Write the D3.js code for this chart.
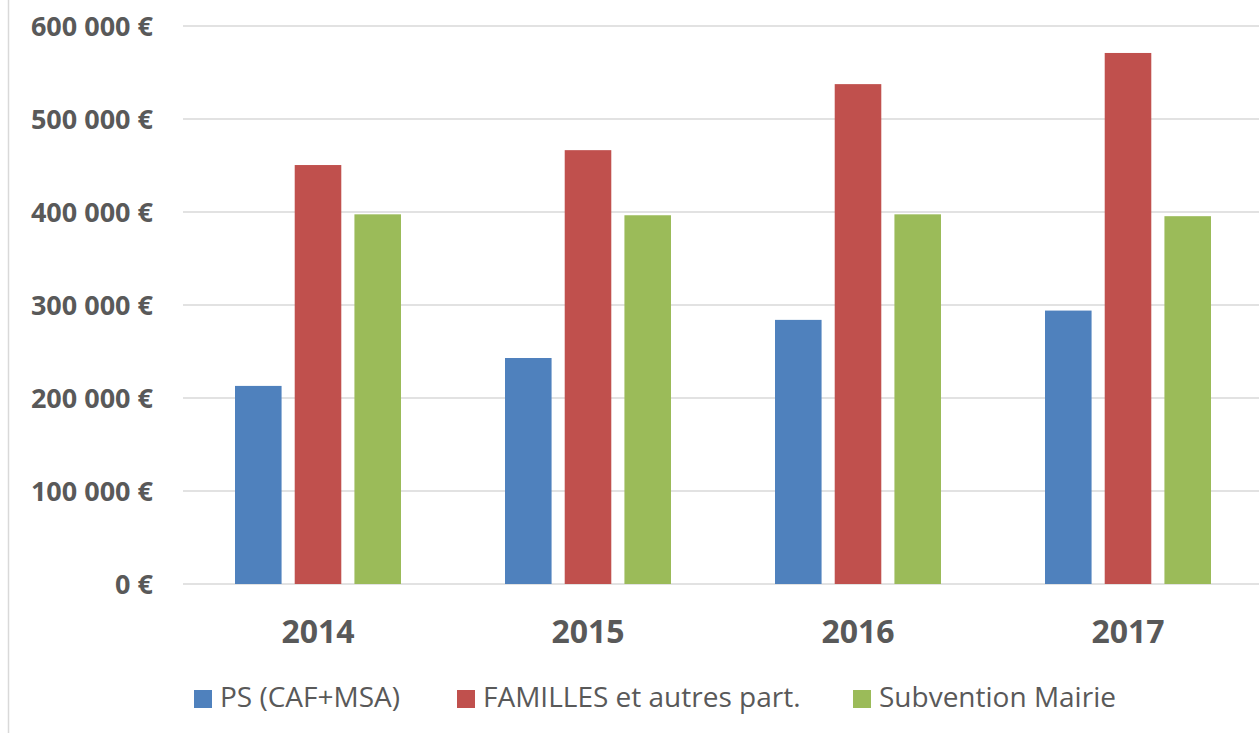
<!DOCTYPE html>
<html><head><meta charset="utf-8">
<script src="https://cdn.jsdelivr.net/npm/d3@7"></script>
<style>body{margin:0;background:#fff}svg{display:block}</style>
</head><body>
<script>
const years = ["2014","2015","2016","2017"];
const seriesNames = ["PS (CAF+MSA)","FAMILLES et autres part.","Subvention Mairie"];
const ps = [213000, 243000, 284000, 294000];
const familles = [450500, 466500, 537500, 571000];
const mairie = [397500, 396500, 397500, 395500];
const yTicks = [0,100000,200000,300000,400000,500000,600000];
const colors = ["#4F81BD","#C0504D","#9BBB59"];

const W=1259,H=733;
const svg=d3.select("body").append("svg").attr("width",W).attr("height",H);
const font="'Open Sans', 'Liberation Sans', sans-serif";
const txt="#595959";

svg.append("line").attr("x1",8.5).attr("x2",8.5).attr("y1",0).attr("y2",H).attr("stroke","#D9D9D9").attr("stroke-width",1.5);

const x0=d3.scaleBand().domain(years).range([183,1263]).paddingInner(0).paddingOuter(0);
const y=d3.scaleLinear().domain([0,600000]).range([584,26]);
const series=[ps,familles,mairie];

// gridlines
svg.append("g").selectAll("line").data(yTicks).join("line")
  .attr("x1",183).attr("x2",W).attr("y1",d=>y(d)).attr("y2",d=>y(d))
  .attr("stroke","#D9D9D9").attr("stroke-width",1.5);

// y labels
svg.append("g").selectAll("text").data(yTicks).join("text")
  .attr("x",153).attr("y",d=>y(d)).attr("dy","0.36em").attr("text-anchor","end")
  .attr("font-family",font).attr("font-weight","bold").attr("font-size",27).attr("fill",txt)
  .text(d=>d3.format(",")(d).replace(/,/g,"\u00a0")+" €");

const x1=d3.scaleBand().domain([0,1,2]).range([52,218]).paddingInner(0.22);
const g=svg.append("g");
years.forEach((yr,i)=>{
  series.forEach((s,k)=>{
    g.append("rect").attr("x",x0(yr)+x1(k)).attr("width",x1.bandwidth())
     .attr("y",y(s[i])).attr("height",y(0)-y(s[i])).attr("fill",colors[k]);
  });
});

// x labels
svg.append("g").selectAll("text").data(years).join("text")
  .attr("x",d=>x0(d)+135).attr("y",643).attr("text-anchor","middle")
  .attr("font-family",font).attr("font-weight","bold").attr("font-size",32).attr("fill",txt)
  .text(d=>d);

// legend
const legX=[194,457,853];
const lg=svg.append("g");
seriesNames.forEach((n,k)=>{
  lg.append("rect").attr("x",legX[k]).attr("y",690).attr("width",18).attr("height",18).attr("fill",colors[k]);
  lg.append("text").attr("x",legX[k]+26).attr("y",707).attr("font-family",font)
    .attr("font-size",28).attr("fill",txt).text(n);
});
</script>
</body></html>
